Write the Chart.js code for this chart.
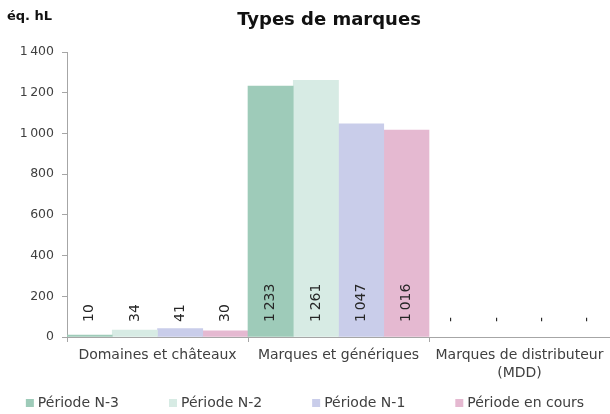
<!DOCTYPE html>
<html>
<head>
<meta charset="utf-8">
<script src="https://cdn.jsdelivr.net/npm/chart.js@4.4.0/dist/chart.umd.min.js"></script>
<style>
  html, body { margin: 0; padding: 0; background: #fff; }
  #wrap { width: 610px; height: 414px; position: relative; }
</style>
</head>
<body>
<div id="wrap"><canvas id="chart"></canvas></div>
<script>
// data (null = no value, shown as "-")
const categories = ['Domaines et châteaux', 'Marques et génériques', ['Marques de distributeur', '(MDD)']];
const seriesNames = ['Période N-3', 'Période N-2', 'Période N-1', 'Période en cours'];
const valuesN3 = [10, 1233, null];
const valuesN2 = [34, 1261, null];
const valuesN1 = [41, 1047, null];
const valuesCurrent = [30, 1016, null];
const yMin = 0, yMax = 1400, yStep = 200;

const colors = ['#9ecbb9', '#d7ebe4', '#c9cdea', '#e5b9d1'];
const FONT = '"DejaVu Sans", sans-serif';
const axisColor = '#a6a6a6';
const textColor = '#404040';

// "1 233" style thousands separator (thin space)
function fmt(v) {
  return String(v).replace(/\B(?=(\d{3})+(?!\d))/g, '\u2009');
}

const overlay = {
  id: 'overlay',
  afterDatasetsDraw(chart) {
    const ctx = chart.ctx;
    const base = chart.scales.y.getPixelForValue(0) - 15;
    ctx.save();
    ctx.font = '14px ' + FONT;
    ctx.fillStyle = '#262626';
    ctx.textAlign = 'left';
    ctx.textBaseline = 'middle';
    chart.data.datasets.forEach((ds, i) => {
      chart.getDatasetMeta(i).data.forEach((bar, j) => {
        const v = ds.data[j];
        ctx.save();
        ctx.translate(bar.x, base);
        ctx.rotate(-Math.PI / 2);
        ctx.fillText(v ? fmt(v) : '-', 0, 0);
        ctx.restore();
      });
    });
    ctx.restore();
  },
  afterDraw(chart) {
    const ctx = chart.ctx;
    ctx.save();
    ctx.fillStyle = '#111';
    ctx.textBaseline = 'middle';
    ctx.font = 'bold 18px ' + FONT;
    ctx.textAlign = 'center';
    ctx.fillText('Types de marques', 329, 20);
    ctx.font = 'bold 13px ' + FONT;
    ctx.textAlign = 'left';
    ctx.fillText('éq. hL', 7, 17);

    // legend, centered under the chart
    ctx.font = '14px ' + FONT;
    const gap = 50, box = 8, textOff = 12;
    const widths = seriesNames.map(n => textOff + ctx.measureText(n).width);
    const total = widths.reduce((a, b) => a + b, 0) + gap * (widths.length - 1);
    let x = chart.width / 2 - total / 2;
    const yMid = 403;
    seriesNames.forEach((name, i) => {
      ctx.fillStyle = colors[i];
      ctx.fillRect(x, yMid - box / 2, box, box);
      ctx.fillStyle = textColor;
      ctx.fillText(name, x + textOff, yMid);
      x += widths[i] + gap;
    });
    ctx.restore();
  }
};

const seriesValues = [valuesN3, valuesN2, valuesN1, valuesCurrent];

new Chart(document.getElementById('chart').getContext('2d'), {
  type: 'bar',
  data: {
    labels: categories,
    datasets: seriesNames.map((name, i) => ({
      label: name,
      data: seriesValues[i],
      backgroundColor: colors[i],
      borderWidth: 0,
      categoryPercentage: 1.0,
      barPercentage: 1.0
    }))
  },
  options: {
    responsive: true,
    maintainAspectRatio: false,
    animation: false,
    layout: { padding: { top: 52, left: 0, right: 0, bottom: 0 } },
    plugins: {
      legend: { display: false },
      title: { display: false },
      tooltip: { enabled: false }
    },
    scales: {
      x: {
        offset: true,
        border: { color: axisColor },
        grid: { offset: true, drawOnChartArea: false, drawTicks: true, tickLength: 5, color: axisColor },
        ticks: {
          color: textColor,
          font: { family: FONT, size: 14, lineHeight: 1.3 },
          padding: 4,
          maxRotation: 0,
          minRotation: 0,
          autoSkip: false
        },
        afterFit(s) { s.height = 77; }
      },
      y: {
        min: yMin,
        max: yMax,
        border: { color: axisColor },
        grid: { drawOnChartArea: false, drawTicks: true, tickLength: 5, color: axisColor },
        ticks: {
          stepSize: yStep,
          color: textColor,
          font: { family: FONT, size: 12.5 },
          padding: 8,
          callback: v => fmt(v)
        },
        afterFit(s) { s.width = 67; }
      }
    }
  },
  plugins: [overlay]
});
</script>
</body>
</html>
